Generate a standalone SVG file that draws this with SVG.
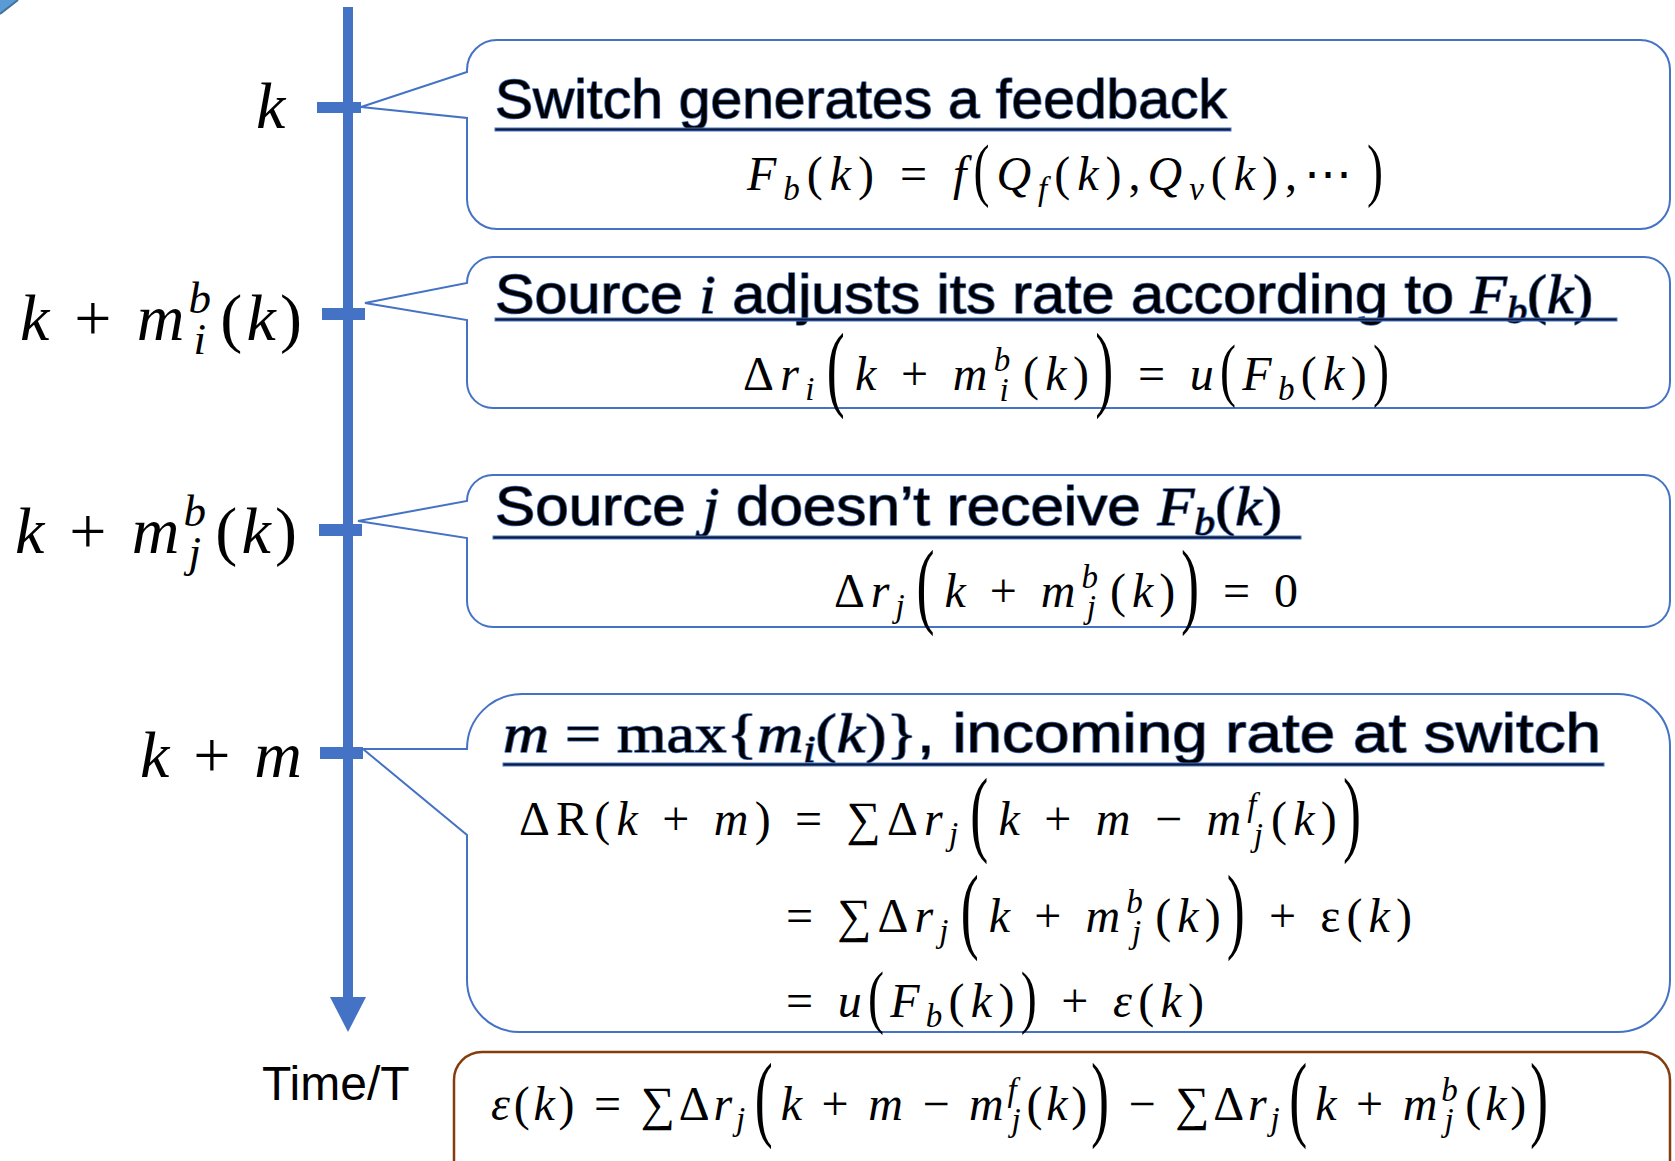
<svg xmlns="http://www.w3.org/2000/svg" width="1675" height="1161" viewBox="0 0 1675 1161">
<defs>
<style>
.box{fill:#fff;stroke:#4472C4;stroke-width:2}
.err{fill:#fff;stroke:#843C0C;stroke-width:2.5}
.axis{fill:#4472C4}
.h{font-family:"Liberation Sans",Arial,sans-serif;font-size:55px;fill:#000;stroke:#4472C4;stroke-width:1.6;paint-order:stroke;stroke-linejoin:round}
.hm{font-family:"Liberation Serif","Times New Roman",serif;font-style:italic}
.hu{font-family:"Liberation Serif","Times New Roman",serif}
.hs{font-size:38px}
.ul{fill:#0d1a3a;stroke:#4472C4;stroke-width:1}
.mt{font-family:"Liberation Serif","Times New Roman",serif;font-size:48px;font-style:italic;fill:#000}
.lab{font-family:"Liberation Serif","Times New Roman",serif;font-size:66px;font-style:italic;fill:#000}
.up{font-style:normal}
.s{font-size:33px}
.ls{font-size:45px}
.bp{font-size:96px;font-style:normal}
.mp{font-size:70px;font-style:normal}
.time{font-family:"Liberation Sans",Arial,sans-serif;font-size:48px;fill:#000}
</style>
</defs>
<rect width="1675" height="1161" fill="#fff"/>
<g id="corner-shape">
<polygon points="0,0 18,0 0,14" fill="#5B9BD5"/>
<line x1="18" y1="0" x2="0" y2="14" stroke="#41719C" stroke-width="2"/>
</g>
<g id="timeline-axis">
<rect class="axis" x="343" y="7" width="10" height="992"/>
<polygon class="axis" points="330,997 366,997 348,1032"/>
<rect class="axis" x="317" y="102" width="44" height="11"/>
<rect class="axis" x="322" y="308" width="43" height="12"/>
<rect class="axis" x="319" y="524" width="43" height="12"/>
<rect class="axis" x="320" y="747" width="43" height="12"/>
</g>
<g id="time-labels">
<text class="lab" x="256" y="128">k</text>
<text class="lab" x="302" y="340" text-anchor="end" textLength="282" lengthAdjust="spacing">k <tspan class="up">+</tspan> m<tspan class="ls" dy="-27">b</tspan><tspan class="ls" dx="-22" dy="41">i</tspan><tspan class="up" dx="10" dy="-14">(</tspan>k<tspan class="up">)</tspan></text>
<text class="lab" x="297" y="553" text-anchor="end" textLength="282" lengthAdjust="spacing">k <tspan class="up">+</tspan> m<tspan class="ls" dy="-27">b</tspan><tspan class="ls" dx="-22" dy="41">j</tspan><tspan class="up" dx="10" dy="-14">(</tspan>k<tspan class="up">)</tspan></text>
<text class="lab" x="302" y="777" text-anchor="end" textLength="162" lengthAdjust="spacing">k <tspan class="up">+</tspan> m</text>
<text class="time" x="262" y="1100">Time/T</text>
</g>
<g id="node-feedback">
<path class="box" d="M497,40 H1640 A30,30 0 0 1 1670,70 V199 A30,30 0 0 1 1640,229 H497 A30,30 0 0 1 467,199 V118 L361,107 L467,72 V70 A30,30 0 0 1 497,40 Z"/>
<text class="h" x="495" y="118" textLength="732" lengthAdjust="spacingAndGlyphs">Switch generates a feedback</text>
<rect class="ul" x="495" y="128" width="736" height="3"/>
<text class="mt" x="747" y="190" textLength="636" lengthAdjust="spacing">F<tspan class="s" dy="10">b</tspan><tspan class="up" dy="-10">(</tspan>k<tspan class="up">) = </tspan>f<tspan class="mp" dy="3" textLength="16" lengthAdjust="spacingAndGlyphs">(</tspan><tspan dy="-3">Q</tspan><tspan class="s" dy="10">f</tspan><tspan class="up" dy="-10">(</tspan>k<tspan class="up">),</tspan>Q<tspan class="s" dy="10">v</tspan><tspan class="up" dy="-10">(</tspan>k<tspan class="up">),⋯</tspan><tspan class="mp" dx="8" dy="3" textLength="16" lengthAdjust="spacingAndGlyphs">)</tspan></text>
</g>
<g id="node-source-i">
<path class="box" d="M493,257 H1644 A26,26 0 0 1 1670,283 V382 A26,26 0 0 1 1644,408 H493 A26,26 0 0 1 467,382 V320 L365,303 L467,283 A26,26 0 0 1 493,257 Z"/>
<text class="h" x="495" y="313" textLength="1098" lengthAdjust="spacingAndGlyphs">Source <tspan class="hm">i</tspan> adjusts its rate according to <tspan class="hm">F</tspan><tspan class="hm hs" dy="10">b</tspan><tspan class="hu" dy="-10">(</tspan><tspan class="hm">k</tspan><tspan class="hu">)</tspan></text>
<rect class="ul" x="495" y="318" width="1122" height="3"/>
<text class="mt" x="743" y="390" textLength="646" lengthAdjust="spacing"><tspan class="up">Δ</tspan>r<tspan class="s" dy="10">i</tspan><tspan class="bp" dx="6" dy="-1" textLength="18" lengthAdjust="spacingAndGlyphs">(</tspan><tspan dx="4" dy="-9">k</tspan><tspan class="up"> + </tspan>m<tspan class="s" dy="-19">b</tspan><tspan class="s" dx="-17" dy="30">i</tspan><tspan class="up" dx="8" dy="-11">(</tspan>k<tspan class="up">)</tspan><tspan class="bp" dy="9" textLength="18" lengthAdjust="spacingAndGlyphs">)</tspan><tspan class="up" dy="-9"> = </tspan>u<tspan class="mp" dy="3" textLength="16" lengthAdjust="spacingAndGlyphs">(</tspan><tspan dy="-3">F</tspan><tspan class="s" dy="10">b</tspan><tspan class="up" dy="-10">(</tspan>k<tspan class="up">)</tspan><tspan class="mp" dy="3" textLength="16" lengthAdjust="spacingAndGlyphs">)</tspan></text>
</g>
<g id="node-source-j">
<path class="box" d="M493,475 H1644 A26,26 0 0 1 1670,501 V601 A26,26 0 0 1 1644,627 H493 A26,26 0 0 1 467,601 V538 L358,521 L467,501 A26,26 0 0 1 493,475 Z"/>
<text class="h" x="495" y="525" textLength="787" lengthAdjust="spacingAndGlyphs">Source <tspan class="hm">j</tspan> doesn’t receive <tspan class="hm">F</tspan><tspan class="hm hs" dy="10">b</tspan><tspan class="hu" dy="-10">(</tspan><tspan class="hm">k</tspan><tspan class="hu">)</tspan></text>
<rect class="ul" x="493" y="536" width="808" height="3"/>
<text class="mt" x="834" y="607" textLength="464" lengthAdjust="spacing"><tspan class="up">Δ</tspan>r<tspan class="s" dy="10">j</tspan><tspan class="bp" dx="6" dy="-1" textLength="18" lengthAdjust="spacingAndGlyphs">(</tspan><tspan dx="4" dy="-9">k</tspan><tspan class="up"> + </tspan>m<tspan class="s" dy="-19">b</tspan><tspan class="s" dx="-17" dy="30">j</tspan><tspan class="up" dx="8" dy="-11">(</tspan>k<tspan class="up">)</tspan><tspan class="bp" dy="9" textLength="18" lengthAdjust="spacingAndGlyphs">)</tspan><tspan class="up" dy="-9"> = 0</tspan></text>
</g>
<g id="node-incoming-rate">
<path class="box" d="M522,694 H1618 A52,52 0 0 1 1670,746 V980 A52,52 0 0 1 1618,1032 H519 A52,52 0 0 1 467,980 V835 L363,749 H467 A55,55 0 0 1 522,694 Z"/>
<text class="h" x="503" y="752" textLength="1098" lengthAdjust="spacingAndGlyphs"><tspan class="hm">m</tspan><tspan class="hu"> = max{</tspan><tspan class="hm">m</tspan><tspan class="hm hs" dy="10">i</tspan><tspan class="hu" dy="-10">(</tspan><tspan class="hm">k</tspan><tspan class="hu">)}</tspan>, incoming rate at switch</text>
<rect class="ul" x="503" y="763" width="1101" height="3"/>
<text class="mt" x="519" y="835" textLength="842" lengthAdjust="spacing"><tspan class="up">ΔR(</tspan>k<tspan class="up"> + </tspan>m<tspan class="up">) = ∑Δ</tspan>r<tspan class="s" dy="10">j</tspan><tspan class="bp" dx="6" dy="-1" textLength="18" lengthAdjust="spacingAndGlyphs">(</tspan><tspan dx="4" dy="-9">k</tspan><tspan class="up"> + </tspan>m<tspan class="up"> − </tspan>m<tspan class="s" dy="-19">f</tspan><tspan class="s" dx="-9" dy="30">j</tspan><tspan class="up" dx="2" dy="-11">(</tspan>k<tspan class="up">)</tspan><tspan class="bp" dy="9" textLength="18" lengthAdjust="spacingAndGlyphs">)</tspan></text>
<text class="mt" x="786" y="932" textLength="626" lengthAdjust="spacing"><tspan class="up">= ∑Δ</tspan>r<tspan class="s" dy="10">j</tspan><tspan class="bp" dx="6" dy="-1" textLength="18" lengthAdjust="spacingAndGlyphs">(</tspan><tspan dx="4" dy="-9">k</tspan><tspan class="up"> + </tspan>m<tspan class="s" dy="-19">b</tspan><tspan class="s" dx="-17" dy="30">j</tspan><tspan class="up" dx="8" dy="-11">(</tspan>k<tspan class="up">)</tspan><tspan class="bp" dy="9" textLength="18" lengthAdjust="spacingAndGlyphs">)</tspan><tspan class="up" dy="-9"> + ε(</tspan>k<tspan class="up">)</tspan></text>
<text class="mt" x="786" y="1017" textLength="418" lengthAdjust="spacing"><tspan class="up">= </tspan>u<tspan class="mp" dy="3" textLength="16" lengthAdjust="spacingAndGlyphs">(</tspan><tspan dy="-3">F</tspan><tspan class="s" dy="10">b</tspan><tspan class="up" dy="-10">(</tspan>k<tspan class="up">)</tspan><tspan class="mp" dy="3" textLength="16" lengthAdjust="spacingAndGlyphs">)</tspan><tspan class="up" dy="-3"> + </tspan>ε<tspan class="up">(</tspan>k<tspan class="up">)</tspan></text>
</g>
<g id="node-error-term">
<rect class="err" x="454" y="1052" width="1216" height="150" rx="28"/>
<text class="mt" x="491" y="1120" textLength="1057" lengthAdjust="spacing">ε<tspan class="up">(</tspan>k<tspan class="up">) = ∑Δ</tspan>r<tspan class="s" dy="10">j</tspan><tspan class="bp" dx="6" dy="-1" textLength="18" lengthAdjust="spacingAndGlyphs">(</tspan><tspan dx="4" dy="-9">k</tspan><tspan class="up"> + </tspan>m<tspan class="up"> − </tspan>m<tspan class="s" dy="-19">f</tspan><tspan class="s" dx="-9" dy="30">j</tspan><tspan class="up" dx="2" dy="-11">(</tspan>k<tspan class="up">)</tspan><tspan class="bp" dy="9" textLength="18" lengthAdjust="spacingAndGlyphs">)</tspan><tspan class="up" dy="-9"> − ∑Δ</tspan>r<tspan class="s" dy="10">j</tspan><tspan class="bp" dx="6" dy="-1" textLength="18" lengthAdjust="spacingAndGlyphs">(</tspan><tspan dx="4" dy="-9">k</tspan><tspan class="up"> + </tspan>m<tspan class="s" dy="-19">b</tspan><tspan class="s" dx="-17" dy="30">j</tspan><tspan class="up" dx="8" dy="-11">(</tspan>k<tspan class="up">)</tspan><tspan class="bp" dy="9" textLength="18" lengthAdjust="spacingAndGlyphs">)</tspan></text>
</g>
</svg>
